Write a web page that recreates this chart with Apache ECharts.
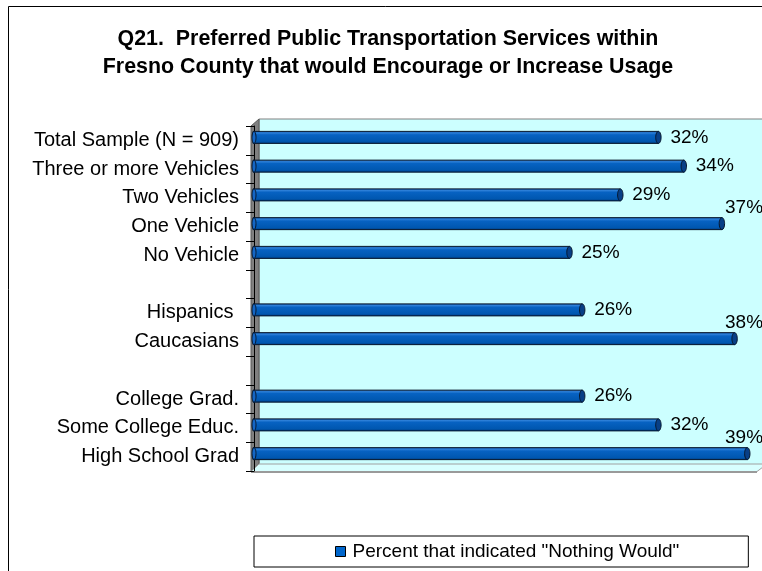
<!DOCTYPE html>
<html>
<head>
<meta charset="utf-8">
<script src="https://cdn.jsdelivr.net/npm/echarts@6/dist/echarts.min.js"></script>
<style>
  html, body { margin: 0; padding: 0; background: #fff; overflow: hidden; }
  #chart { width: 762px; height: 571px; }
</style>
</head>
<body>
<div id="chart"></div>
<script>
// Survey groups (blank entries are spacer rows between groups)
const categories = [
  'Total Sample (N = 909)',
  'Three or more Vehicles',
  'Two Vehicles',
  'One Vehicle',
  'No Vehicle',
  ' ',
  'Hispanics ',
  'Caucasians',
  '  ',
  'College Grad.',
  'Some College Educ.',
  'High School Grad'
];
// Percent of respondents in each group who said "Nothing Would"
const nothingWould = [32, 34, 29, 37, 25, null, 26, 38, null, 26, 32, 39];
const seriesName = 'Percent that indicated "Nothing Would"';
const titleLines = [
  'Q21.  Preferred Public Transportation Services within',
  'Fresno County that would Encourage or Increase Usage'
];
const xMin = 0;
const xMax = 40;

// ---- layout / style ----
const FONT = '"Liberation Sans", Arial, Helvetica, sans-serif';
const GRID = { left: 254, top: 126, bottom: 100 };
const DEPTH_X = 8, DEPTH_Y = 7.5;
const W = 762, H = 571;
const plotBottom = H - GRID.bottom;
const wallLeft = GRID.left - 3 + DEPTH_X;

const barData = [];
nothingWould.forEach((v, i) => { if (v != null) barData.push([v, i]); });

function renderBar(params, api) {
  const v = api.value(0);
  const idx = api.value(1);
  const start = api.coord([0, idx]);
  const end = api.coord([v, idx]);
  const h = 12;
  const cy = start[1] - 3;
  const x0 = start[0] - 1;
  const x1 = end[0];
  const body = {
    type: 'rect',
    shape: { x: x0, y: cy - h / 2, width: x1 - x0 - 2, height: h },
    style: {
      fill: new echarts.graphic.LinearGradient(0, 0, 0, 1, [
        { offset: 0, color: '#0A4E9E' },
        { offset: 0.16, color: '#2C7FD8' },
        { offset: 0.3, color: '#0762C2' },
        { offset: 0.8, color: '#0057B0' },
        { offset: 1, color: '#003A7C' }
      ]),
      stroke: '#06162C',
      lineWidth: 1
    }
  };
  const leftCap = {
    type: 'ellipse',
    shape: { cx: x0 + 1, cy: cy, rx: 2, ry: h / 2 },
    style: { fill: '#1566C4', stroke: '#06162C', lineWidth: 1 }
  };
  const rightCap = {
    type: 'ellipse',
    shape: { cx: x1 - 2, cy: cy, rx: 2.7, ry: h / 2 },
    style: { fill: '#083F86', stroke: '#06162C', lineWidth: 1 }
  };
  let lx = x1 + 10, ly = cy;
  if (lx > 725) { lx = 725; ly = cy - 16; }
  const label = {
    type: 'text',
    style: {
      text: v + '%', x: lx, y: ly,
      font: '19px ' + FONT, fill: '#000',
      align: 'left', verticalAlign: 'middle',
      textAlign: 'left', textVerticalAlign: 'middle'
    }
  };
  return { type: 'group', children: [body, leftCap, rightCap, label] };
}

const chart = echarts.init(document.getElementById('chart'), null, { renderer: 'canvas' });

chart.setOption({
  backgroundColor: '#fff',
  animation: false,
  grid: { left: GRID.left, right: 0, top: GRID.top, bottom: GRID.bottom, containLabel: false },
  xAxis: { type: 'value', min: xMin, max: xMax, show: false },
  yAxis: {
    type: 'category',
    data: categories,
    inverse: true,
    offset: 3,
    axisLine: { show: true, lineStyle: { color: '#000', width: 1 } },
    axisTick: { show: true, length: 8, lineStyle: { color: '#000', width: 1 } },
    axisLabel: { fontSize: 20, fontFamily: FONT, color: '#000', margin: 12, padding: [3, 0, 0, 0] },
    splitLine: { show: false }
  },
  legend: {
    data: [seriesName],
    left: 254, top: 536,
    padding: [6, 69, 6, 81],
    itemWidth: 10, itemHeight: 10,
    icon: 'rect',
    borderColor: '#000', borderWidth: 1,
    itemStyle: { color: '#0066CC', borderColor: '#000', borderWidth: 1 },
    textStyle: { fontSize: 19, fontFamily: FONT, color: '#000', padding: [0, 0, 0, 2] }
  },
  graphic: [
    // chart frame (left and top edges; the rest lies outside the canvas)
    { type: 'polyline', z: -20, shape: { points: [[8.5, H + 5], [8.5, 6.5], [W + 5, 6.5]] },
      style: { fill: null, stroke: '#000', lineWidth: 1 } },
    // back wall
    { type: 'rect', z: -10, shape: { x: wallLeft, y: GRID.top - DEPTH_Y + 0.5, width: W, height: plotBottom - GRID.top + 0.5 },
      style: { fill: '#CCFFFF', stroke: '#808080', lineWidth: 1 } },
    // side wall
    { type: 'polygon', z: -9, shape: { points: [
        [GRID.left - 3, GRID.top], [wallLeft, GRID.top - DEPTH_Y + 0.5],
        [wallLeft, plotBottom - DEPTH_Y], [GRID.left - 3, plotBottom]] },
      style: { fill: '#808080', stroke: '#5A5A5A', lineWidth: 1 } },
    // floor
    { type: 'polygon', z: -9, shape: { points: [
        [GRID.left - 3, plotBottom + 0.5], [wallLeft, plotBottom - DEPTH_Y + 0.5],
        [W + 5, plotBottom - DEPTH_Y + 0.5], [W - 5, plotBottom + 0.5]] },
      style: { fill: '#D8FFFF', stroke: '#A0A0A0', lineWidth: 1 } },
    { type: 'line', z: -8, shape: { x1: GRID.left - 3, y1: plotBottom + 1, x2: W - 5, y2: plotBottom + 1 },
      style: { stroke: '#9A9A9A', lineWidth: 2 } },
    // title
    { type: 'text', z: 10, style: { text: titleLines[0], x: 388, y: 39, font: 'bold 21.4px ' + FONT, fill: '#000',
      align: 'center', verticalAlign: 'middle', textAlign: 'center', textVerticalAlign: 'middle' } },
    { type: 'text', z: 10, style: { text: titleLines[1], x: 388, y: 67, font: 'bold 21.4px ' + FONT, fill: '#000',
      align: 'center', verticalAlign: 'middle', textAlign: 'center', textVerticalAlign: 'middle' } }
  ],
  series: [{
    type: 'custom',
    name: seriesName,
    data: barData,
    encode: { x: 0, y: 1 },
    renderItem: renderBar,
    itemStyle: { color: '#0066CC', borderColor: '#000', borderWidth: 1 },
    z: 5
  }]
});
</script>
</body>
</html>
